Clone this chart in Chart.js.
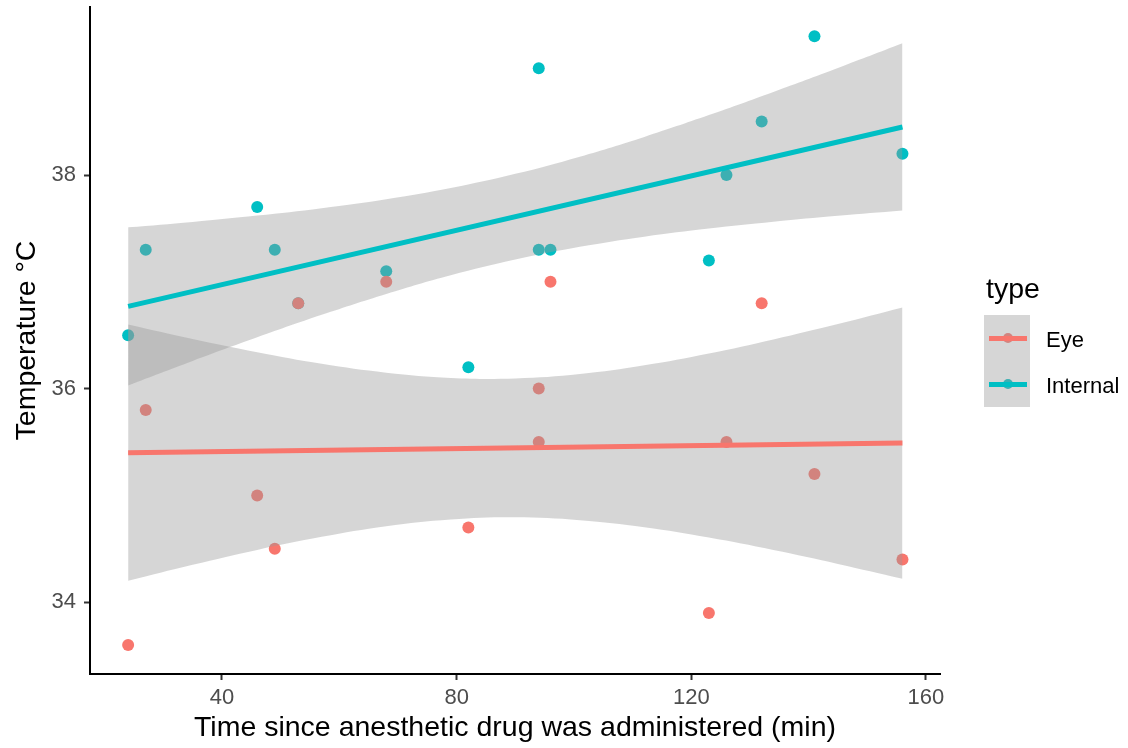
<!DOCTYPE html>
<html><head><meta charset="utf-8">
<script src="https://cdn.jsdelivr.net/npm/chart.js@4.4.1/dist/chart.umd.min.js"></script>
<style>
html,body{margin:0;padding:0;background:#fff;}
#wrap{position:relative;width:1128px;height:748px;overflow:hidden;}
canvas{position:absolute;left:0;top:0;}
.lg{position:absolute;font-family:"Liberation Sans",Arial,sans-serif;line-height:1;white-space:nowrap;color:#000;}
</style></head><body>
<div id="wrap"><canvas id="c" width="1128" height="748"></canvas></div>
<script>
// ---- data ----
const seriesNames = ['Eye', 'Internal'];
const timeMin   = [24, 27, 46, 49, 53, 68, 82, 94, 94, 96, 123, 126, 132, 141, 156];
const eyeTemp   = [33.6, 35.8, 35.0, 34.5, 36.8, 37.0, 34.7, 36.0, 35.5, 37.0, 33.9, 35.5, 36.8, 35.2, 34.4];
const intTemp   = [36.5, 37.3, 37.7, 37.3, 36.8, 37.1, 36.2, 39.0, 37.3, 37.3, 37.2, 38.0, 38.5, 39.3, 38.2];
// fitted lines (end points)
const fitX      = [24, 156];
const eyeFitY   = [35.40, 35.49];
const intFitY   = [36.77, 38.45];
// confidence band edges read at these times
const bandX     = [24, 35, 46, 57, 68, 79, 90, 101, 112, 123, 134, 145, 156];
const eyeUpper  = [36.600, 36.464, 36.340, 36.232, 36.149, 36.100, 36.095, 36.136, 36.218, 36.329, 36.461, 36.605, 36.760];
const eyeLower  = [34.200, 34.350, 34.490, 34.612, 34.711, 34.774, 34.795, 34.768, 34.702, 34.605, 34.489, 34.359, 34.220];
const intUpper  = [37.510, 37.561, 37.620, 37.689, 37.773, 37.878, 38.011, 38.172, 38.357, 38.561, 38.778, 39.002, 39.233];
const intLower  = [36.030, 36.259, 36.480, 36.691, 36.887, 37.062, 37.209, 37.328, 37.423, 37.499, 37.563, 37.618, 37.667];
const xTicks    = [40, 80, 120, 160];
const yTicks    = [34, 36, 38];

const colEye = '#F8766D', colInt = '#00BFC4';
const bandFill = 'rgba(153,153,153,0.4)';
const FONT = "'Liberation Sans', Arial, sans-serif";

const pts = (xs, ys) => xs.map((x, i) => ({x: x, y: ys[i]}));

Chart.defaults.font.family = FONT;

const datasets = [
  // points (drawn first, underneath)
  {label: 'Eye pts', data: pts(timeMin, eyeTemp), showLine: false, pointRadius: 6,
   pointBackgroundColor: colEye, pointBorderWidth: 0, borderWidth: 0, order: 10},
  {label: 'Int pts', data: pts(timeMin, intTemp), showLine: false, pointRadius: 6,
   pointBackgroundColor: colInt, pointBorderWidth: 0, borderWidth: 0, order: 11},
  // eye band
  {label: 'eyeLo', data: pts(bandX, eyeLower), pointRadius: 0, borderWidth: 0, fill: false, tension: 0.4, order: 6},
  {label: 'eyeHi', data: pts(bandX, eyeUpper), pointRadius: 0, borderWidth: 0, fill: '-1', backgroundColor: bandFill, tension: 0.4, order: 6},
  // internal band
  {label: 'intLo', data: pts(bandX, intLower), pointRadius: 0, borderWidth: 0, fill: false, tension: 0.4, order: 4},
  {label: 'intHi', data: pts(bandX, intUpper), pointRadius: 0, borderWidth: 0, fill: '-1', backgroundColor: bandFill, tension: 0.4, order: 4},
  // fitted lines
  {label: 'Eye fit', data: pts(fitX, eyeFitY), pointRadius: 0, borderWidth: 5, borderColor: colEye, fill: false, order: 5, borderCapStyle: 'butt'},
  {label: 'Int fit', data: pts(fitX, intFitY), pointRadius: 0, borderWidth: 5, borderColor: colInt, fill: false, order: 3, borderCapStyle: 'butt'}
];

new Chart(document.getElementById('c'), {
  type: 'line',
  data: {datasets: datasets},
  options: {
    responsive: false,
    animation: false,
    devicePixelRatio: 1,
    events: [],
    layout: {padding: {top: 7, right: 188, bottom: 0, left: 0}},
    plugins: {legend: {display: false}, tooltip: {enabled: false}},
    scales: {
      x: {
        type: 'linear', min: 17.5, max: 162.4,
        afterBuildTicks: s => { s.ticks = xTicks.map(v => ({value: v})); },
        afterFit: s => { s.height = 74; s.paddingLeft = 0; s.paddingRight = 0; },
        grid: {drawOnChartArea: false, drawTicks: true, tickLength: 6, tickWidth: 2, tickColor: '#333333', color: '#333333'},
        border: {display: true, color: '#000000', width: 2},
        ticks: {color: '#4D4D4D', font: {size: 22}, padding: 5, maxRotation: 0, autoSkip: false},
        title: {display: true, text: 'Time since anesthetic drug was administered (min)', color: '#000000',
                font: {size: 28.5}, padding: {top: 0, bottom: 2.3}}
      },
      y: {
        type: 'linear', min: 33.328, max: 39.573,
        afterBuildTicks: s => { s.ticks = yTicks.map(v => ({value: v})); },
        afterFit: s => { s.width = 90; s.paddingTop = 0; s.paddingBottom = 0; },
        grid: {drawOnChartArea: false, drawTicks: true, tickLength: 6, tickWidth: 2, tickColor: '#333333', color: '#333333'},
        border: {display: true, color: '#000000', width: 2},
        ticks: {color: '#4D4D4D', font: {size: 22}, padding: 8, autoSkip: false},
        title: {display: true, text: 'Temperature \u00B0C', color: '#000000',
                font: {size: 28.5}, padding: {top: 10.4, bottom: 0}}
      }
    }
  }
});

// ---- legend (HTML text) ----
const wrap = document.getElementById('wrap');
function addEl(html, style, cls) {
  const d = document.createElement('div');
  if (cls) d.className = cls;
  d.setAttribute('style', style);
  d.innerHTML = html;
  wrap.appendChild(d);
  return d;
}
addEl('type', 'left:986px;top:274px;font-size:28.5px;', 'lg');
addEl('', 'position:absolute;left:984px;top:315px;width:46px;height:92px;background:#D6D6D6;');
const keyCols = [colEye, colInt];
const mutedCols = ['rgb(210,132,127)', 'rgb(61,176,179)'];
seriesNames.forEach((name, i) => {
  const cy = 338.3 + i * 46;
  addEl('', `position:absolute;left:1003px;top:${cy - 5}px;width:10px;height:10px;border-radius:50%;background:${mutedCols[i]};`);
  addEl('', `position:absolute;left:989px;top:${cy - 2.5}px;width:38px;height:5px;background:${keyCols[i]};`);
  addEl(name, `left:1046px;top:${cy - 9.6}px;font-size:22px;`, 'lg');
});
</script>
</body></html>
